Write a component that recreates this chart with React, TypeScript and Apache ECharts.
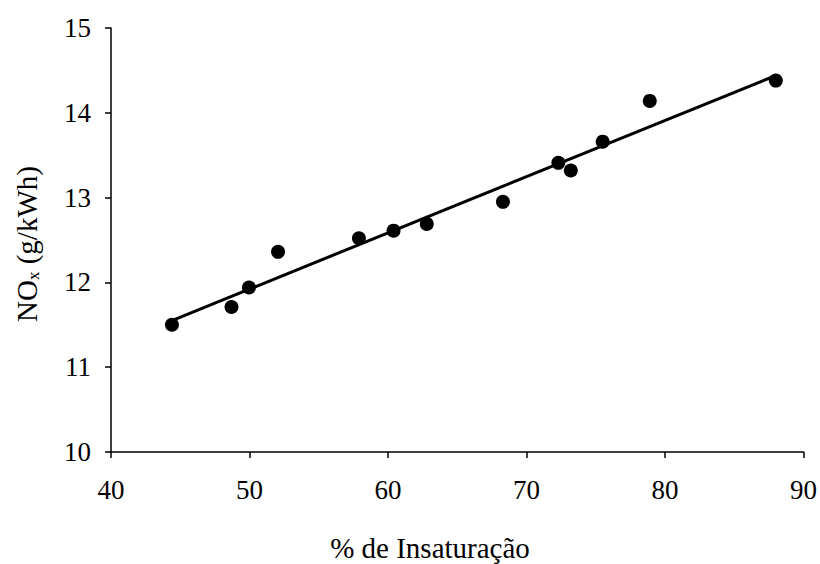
import React, { useEffect, useRef } from "react";
import * as echarts from "echarts";

const xTicksMin = 40;
const xTicksMax = 90;
const yTicksMin = 10;
const yTicksMax = 15;

const insaturacao = [44.4, 48.7, 49.96, 52.06, 57.9, 60.4, 62.8, 68.3, 72.3, 73.2, 75.5, 78.9, 88.0];
const noxValues = [11.5, 11.71, 11.94, 12.36, 12.52, 12.61, 12.69, 12.95, 13.41, 13.32, 13.66, 14.14, 14.38];

const trendX = [44.4, 88.0];
const trendY = [11.55, 14.44];

const xTitle = "% de Insaturação";
const yTitle = "NO{sub|x} (g/kWh)";

const FONT = "Liberation Serif";

export default function App() {
  const ref = useRef<HTMLDivElement>(null);
  useEffect(() => {
    if (!ref.current) return;
    const chart = echarts.init(ref.current, null, { renderer: "svg" });
    chart.setOption({
      animation: false,
      backgroundColor: "#ffffff",
      textStyle: { fontFamily: FONT },
      grid: { left: 111, right: 16, top: 28, bottom: 112, containLabel: false },
      xAxis: {
        type: "value",
        min: xTicksMin,
        max: xTicksMax,
        interval: 10,
        axisLine: { show: true, lineStyle: { color: "#000", width: 1.5 } },
        axisTick: { show: true, inside: false, length: 6, lineStyle: { color: "#000", width: 1.5 } },
        axisLabel: { color: "#000", fontFamily: FONT, fontSize: 27, margin: 24 },
        splitLine: { show: false },
      },
      yAxis: {
        type: "value",
        min: yTicksMin,
        max: yTicksMax,
        interval: 1,
        axisLine: { show: true, lineStyle: { color: "#000", width: 1.5 } },
        axisTick: { show: true, inside: false, length: 6, lineStyle: { color: "#000", width: 1.5 } },
        axisLabel: { color: "#000", fontFamily: FONT, fontSize: 27, margin: 20 },
        splitLine: { show: false },
      },
      graphic: [
        {
          type: "text",
          x: 430,
          y: 548,
          style: {
            text: xTitle,
            fill: "#000",
            fontFamily: FONT,
            fontSize: 29,
            align: "center",
            verticalAlign: "middle",
          },
        },
        {
          type: "text",
          x: 27,
          y: 244,
          rotation: Math.PI / 2,
          style: {
            text: yTitle,
            fill: "#000",
            fontFamily: FONT,
            fontSize: 29,
            align: "center",
            verticalAlign: "middle",
            rich: {
              sub: {
                fontSize: 17,
                fontFamily: FONT,
                fill: "#000",
                padding: [13, 0, 0, 0],
              },
            },
          },
        },
      ],
      series: [
        {
          type: "line",
          data: trendX.map((x, i) => [x, trendY[i]]),
          showSymbol: false,
          symbol: "none",
          lineStyle: { color: "#000", width: 3 },
          z: 2,
        },
        {
          type: "scatter",
          data: insaturacao.map((x, i) => [x, noxValues[i]]),
          symbol: "circle",
          symbolSize: 14,
          itemStyle: { color: "#000", opacity: 1 },
          z: 3,
        },
      ],
    });
    return () => chart.dispose();
  }, []);
  return <div ref={ref} style={{ width: 820, height: 564, position: "absolute", left: 0, top: 0 }} />;
}
